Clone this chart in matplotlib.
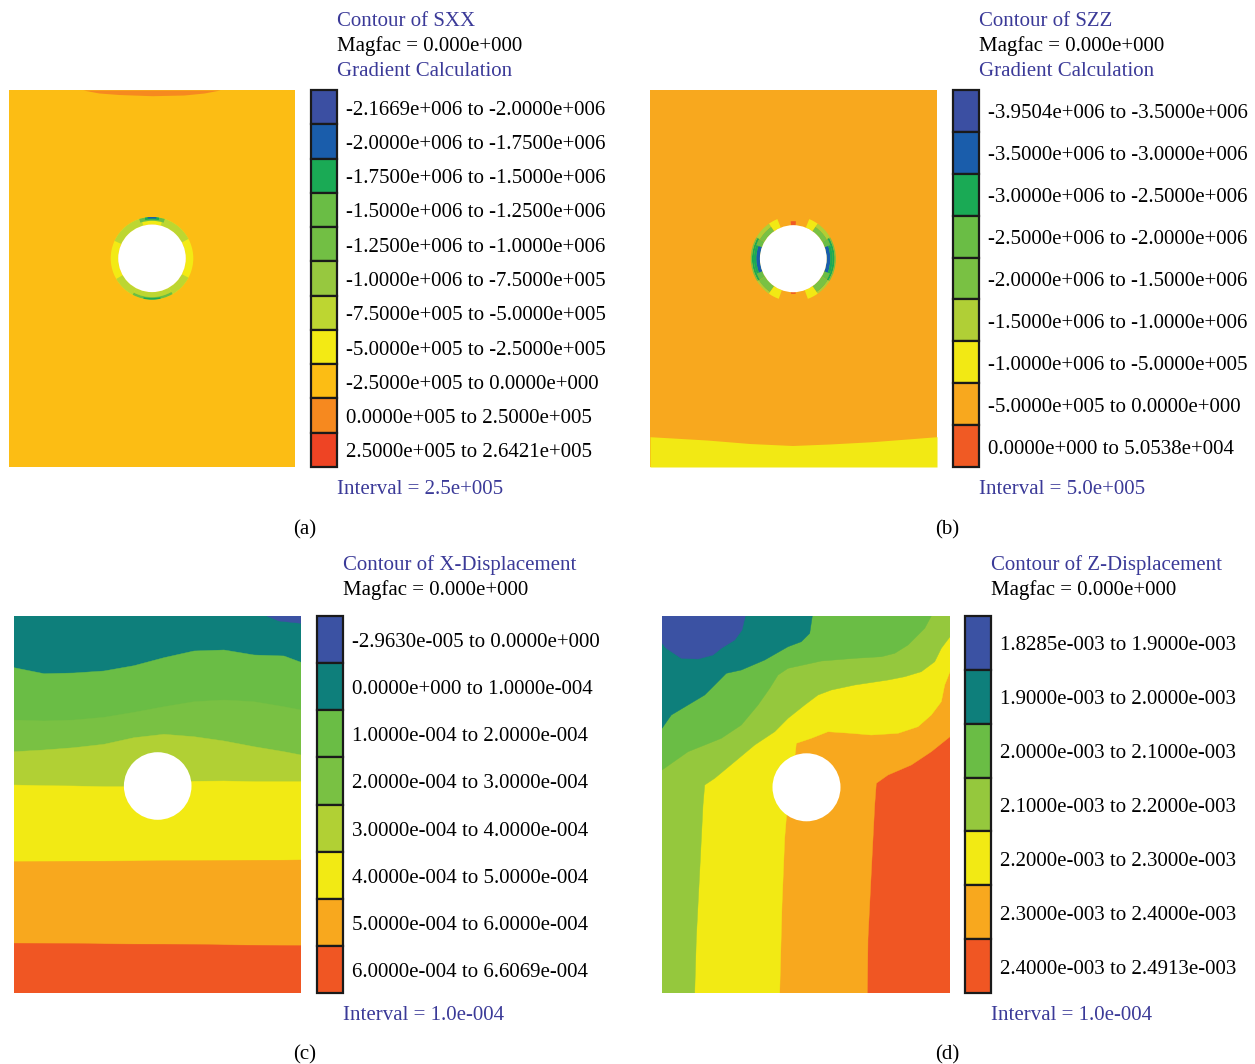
import numpy as np
import matplotlib
matplotlib.use('Agg')
import matplotlib.pyplot as plt
from matplotlib.patches import Rectangle, Circle, Wedge, Polygon

plt.rcParams['font.family'] = ['Liberation Serif', 'DejaVu Serif']

FIG_W, FIG_H = 1255, 1064
TXT_BLUE = '#3B3A98'
H = 37.7  # model height (depth units)

# ---------------- (a) SXX ----------------
sxx_colors = ['#3B4FA2', '#1A5DAB', '#1AAA55', '#6ABD45', '#72BF44', '#97C83F',
              '#BDD631', '#F3EA14', '#FCBD14', '#F6891F', '#EE4424']
sxx_labels = ['-2.1669e+006 to -2.0000e+006', '-2.0000e+006 to -1.7500e+006',
              '-1.7500e+006 to -1.5000e+006', '-1.5000e+006 to -1.2500e+006',
              '-1.2500e+006 to -1.0000e+006', '-1.0000e+006 to -7.5000e+005',
              '-7.5000e+005 to -5.0000e+005', '-5.0000e+005 to -2.5000e+005',
              '-2.5000e+005 to 0.0000e+000', '0.0000e+005 to 2.5000e+005',
              '2.5000e+005 to 2.6421e+005']
sxx_field_level = 8
sxx_lens_x = [7.4, 9.0, 11.0, 14.3, 17.5, 19.5, 21.1]
sxx_lens_d = [0.0, 0.3, 0.45, 0.57, 0.5, 0.3, 0.0]
sxx_lens_level = 9
sxx_hole = (14.3, 16.83, 3.38)
sxx_ring_a1 = [0, 295, 15, 118, 208, 150, 150, 168, -18, -10, -6]
sxx_ring_a2 = [360, 345, 62, 150, 240, 208, 208, 192, 18, 10, 6]
sxx_ring_rin = [3.38, 3.38, 3.38, 3.38, 3.38, 3.38, 3.88, 3.98, 3.75, 3.88, 3.98]
sxx_ring_rout = [4.13, 4.13, 4.13, 4.13, 4.13, 3.88, 4.13, 4.13, 4.13, 4.13, 4.13]
sxx_ring_level = [7, 6, 6, 6, 6, 6, 3, 2, 3, 2, 1]

# ---------------- (b) SZZ ----------------
szz_colors = ['#3B4FA2', '#1A5DAB', '#1AAA55', '#6ABD45', '#79C143', '#B0CF36',
              '#F2E914', '#F8A81E', '#F05A24']
szz_labels = ['-3.9504e+006 to -3.5000e+006', '-3.5000e+006 to -3.0000e+006',
              '-3.0000e+006 to -2.5000e+006', '-2.5000e+006 to -2.0000e+006',
              '-2.0000e+006 to -1.5000e+006', '-1.5000e+006 to -1.0000e+006',
              '-1.0000e+006 to -5.0000e+005', '-5.0000e+005 to 0.0000e+000',
              '0.0000e+000 to 5.0538e+004']
szz_field_level = 7
szz_band_x = [0.0, 5.7, 10.0, 14.3, 18.0, 22.3, 28.8]
szz_band_d = [34.67, 35.0, 35.35, 35.55, 35.4, 35.17, 34.67]
szz_band_level = 6
szz_hole = (14.38, 16.87, 3.35)
szz_ring_a1 = [22, 35, 35, 60, 60, 60, 70, 70, 122, 122, 145,
               325, 300, 300, 238, 238, 238, 248, 248, 215, 215, 200,
               -4, 176]
szz_ring_a2 = [35, 60, 60, 122, 122, 122, 112, 112, 145, 145, 160,
               338, 325, 325, 300, 300, 300, 290, 290, 238, 238, 215,
               4, 184]
szz_ring_rin = [3.35, 3.35, 3.9, 3.35, 3.95, 4.15, 3.35, 3.72, 3.35, 4.1, 3.35,
                3.35, 3.35, 3.9, 3.35, 3.95, 4.15, 3.35, 3.72, 3.35, 4.1, 3.35,
                3.35, 3.35]
szz_ring_rout = [4.27, 3.9, 4.27, 3.95, 4.15, 4.27, 3.72, 3.95, 4.1, 4.27, 4.27,
                 4.27, 3.9, 4.27, 3.95, 4.15, 4.27, 3.72, 3.95, 4.1, 4.27, 4.27,
                 3.75, 3.52]
szz_ring_level = [6, 4, 5, 3, 2, 4, 1, 2, 4, 5, 6,
                  6, 4, 5, 3, 2, 4, 1, 2, 4, 5, 6,
                  8, 8]

# ---------------- (c) X-Displacement ----------------
xd_colors = ['#3B52A3', '#0E7F7B', '#6ABD45', '#79C143', '#B1D034', '#F2EA14',
             '#F8A81E', '#F05623']
xd_labels = ['-2.9630e-005 to 0.0000e+000', '0.0000e+000 to 1.0000e-004',
             '1.0000e-004 to 2.0000e-004', '2.0000e-004 to 3.0000e-004',
             '3.0000e-004 to 4.0000e-004', '4.0000e-004 to 5.0000e-004',
             '5.0000e-004 to 6.0000e-004', '6.0000e-004 to 6.6069e-004']
xd_W = 28.7
xd_x = [0, 3, 6, 9, 12, 15, 18, 21, 24, 27, 28.7]
xd_b1 = [5.17, 5.77, 5.70, 5.50, 4.97, 4.17, 3.50, 3.40, 3.90, 4.00, 4.63]
xd_b2 = [10.4, 10.5, 10.4, 10.13, 9.63, 9.07, 8.57, 8.4, 8.57, 9.07, 9.4]
xd_b3 = [13.57, 13.4, 13.17, 12.83, 12.17, 11.83, 12.07, 12.5, 13.07, 13.57, 13.9]
xd_b4 = [16.9, 16.97, 17.0, 17.07, 17.07, 16.8, 16.53, 16.5, 16.57, 16.57, 16.57]
xd_b5 = [24.57, 24.55, 24.53, 24.52, 24.5, 24.48, 24.47, 24.45, 24.43, 24.42, 24.4]
xd_b6 = [32.73, 32.75, 32.77, 32.8, 32.82, 32.83, 32.86, 32.9, 32.93, 32.96, 32.97]
xd_blue_x = [28.7, 26.5, 25.3]
xd_blue_d = [0.73, 0.5, 0.0]
xd_hole = (14.37, 17.0, 3.38)

# ---------------- (d) Z-Displacement ----------------
zd_colors = ['#3B52A3', '#0E7F7B', '#6ABD45', '#95C83D', '#F2EA14', '#F8A81E', '#F05623']
zd_labels = ['1.8285e-003 to 1.9000e-003', '1.9000e-003 to 2.0000e-003',
             '2.0000e-003 to 2.1000e-003', '2.1000e-003 to 2.2000e-003',
             '2.2000e-003 to 2.3000e-003', '2.3000e-003 to 2.4000e-003',
             '2.4000e-003 to 2.4913e-003']
zd_W = 28.8
zd_or_x = [28.8, 26.93, 24.93, 22.6, 21.43, 21.27, 20.93, 20.6, 20.53]
zd_or_d = [12.07, 13.57, 14.9, 15.9, 16.73, 18.9, 25.57, 32.23, 37.7]
zd_yo_x = [28.8, 28.27, 27.93, 26.93, 25.6, 23.6, 20.93, 18.93, 16.6, 14.93, 13.43,
           13.33, 12.43, 12.27, 12.0, 11.77]
zd_yo_d = [5.57, 6.9, 8.57, 9.9, 11.07, 11.73, 11.9, 11.73, 11.57, 12.23, 12.73,
           13.73, 20.23, 22.23, 28.9, 37.7]
zd_gy_x = [28.8, 27.93, 27.27, 25.93, 24.27, 22.6, 19.27, 16.93, 15.6, 14.27, 12.6,
           11.27, 9.27, 7.27, 5.27, 4.27, 4.1, 3.77, 3.43, 3.27]
zd_gy_d = [2.07, 3.23, 4.57, 5.57, 6.07, 6.4, 6.9, 7.4, 7.9, 8.9, 10.23,
           11.57, 12.9, 14.57, 16.23, 16.9, 18.9, 25.57, 32.23, 37.7]
zd_gg_x = [26.93, 26.27, 24.6, 23.27, 21.93, 19.27, 15.93, 12.6, 11.6, 10.77, 9.6,
           7.93, 5.93, 4.27, 2.6, 0.0]
zd_gg_d = [0.0, 1.23, 2.9, 3.73, 4.07, 4.23, 4.5, 5.23, 5.9, 7.23, 8.9,
           10.9, 12.23, 12.9, 13.57, 15.4]
zd_tg_x = [15.03, 14.77, 13.93, 12.6, 10.27, 7.93, 6.43, 5.27, 4.27, 2.6, 0.93, 0.0]
zd_tg_d = [0.0, 1.73, 2.57, 3.07, 4.4, 5.4, 5.73, 6.9, 7.9, 8.9, 9.9, 11.23]
zd_bl_x = [8.33, 8.0, 7.27, 5.93, 5.1, 3.6, 1.93, 0.43, 0.0]
zd_bl_d = [0.0, 1.4, 2.4, 3.23, 3.9, 4.3, 4.23, 3.23, 2.73]
zd_hole = (14.45, 17.13, 3.4)

TEXT_DY = 3  # baseline correction in pixels


# ---------------- helpers ----------------
def px_axes(fig, left, top, width, height):
    return fig.add_axes([left / FIG_W, 1 - (top + height) / FIG_H,
                         width / FIG_W, height / FIG_H])


def ftext(fig, x, y, s, color='black', ha='left', size=15):
    fig.text(x / FIG_W, 1 - (y + TEXT_DY) / FIG_H, s, color=color, ha=ha,
             va='center', fontsize=size)


def perim_s(x, y, W, Hh):
    dists = [abs(y), abs(x - W), abs(y - Hh), abs(x)]
    k = int(np.argmin(dists))
    if k == 0:
        return x
    if k == 1:
        return W + y
    if k == 2:
        return W + Hh + (W - x)
    return 2 * W + Hh + (Hh - y)


def side_polygon(xs, ds, W, Hh):
    pts = list(zip(xs, ds))
    P = 2 * (W + Hh)
    s_start = perim_s(xs[0], ds[0], W, Hh)
    s_end = perim_s(xs[-1], ds[-1], W, Hh)
    span = (s_start - s_end) % P
    corners = [(0, (0, 0)), (W, (W, 0)), (W + Hh, (W, Hh)), (2 * W + Hh, (0, Hh))]
    extra = []
    for sc, c in corners:
        dd = (sc - s_end) % P
        if 0 < dd < span:
            extra.append((dd, c))
    extra.sort()
    return pts + [c for _, c in extra]


def field_axes(fig, rect, W):
    ax = px_axes(fig, *rect)
    ax.set_xlim(0, W)
    ax.set_ylim(H, 0)
    ax.axis('off')
    return ax


def fill_region(ax, xs, ds, W, color):
    ax.add_patch(Polygon(side_polygon(xs, ds, W, H), closed=True,
                         facecolor=color, edgecolor=color, linewidth=0.3))


def draw_ring(ax, center, a1, a2, rin, rout, levels, colors):
    for t1, t2, ri, ro, lv in zip(a1, a2, rin, rout, levels):
        ax.add_patch(Wedge(center, ro, t1 - 90, t2 - 90, width=ro - ri,
                           facecolor=colors[lv], edgecolor='none'))


def draw_hole(ax, hole):
    cx, cy, r = hole
    ax.add_patch(Circle((cx, cy), r, facecolor='white', edgecolor='none', zorder=5))


def draw_legend(fig, box_left, top, height, colors, labels):
    ax = px_axes(fig, box_left, top, 26, height)
    n = len(colors)
    ax.set_xlim(0, 1)
    ax.set_ylim(n, 0)
    ax.axis('off')
    step = height / n
    for i, c in enumerate(colors):
        ax.add_patch(Rectangle((0, i), 1, 1, facecolor=c, edgecolor='#1a1a1a',
                               linewidth=1.6, clip_on=False))
        ftext(fig, box_left + 35, top + (i + 0.5) * step, labels[i])


def headers(fig, x, lines, y0):
    for i, (s, c) in enumerate(lines):
        ftext(fig, x, y0 + 25.5 * i, s, color=c)


fig = plt.figure(figsize=(FIG_W / 100, FIG_H / 100), dpi=100)
fig.patch.set_facecolor('white')

# ---- (a) ----
ax = field_axes(fig, (9, 90, 286, 377), 28.6)
ax.add_patch(Rectangle((0, 0), 28.6, H, facecolor=sxx_colors[sxx_field_level],
                       edgecolor='none'))
ax.fill_between(sxx_lens_x, 0, sxx_lens_d, color=sxx_colors[sxx_lens_level], lw=0)
draw_ring(ax, sxx_hole[:2], sxx_ring_a1, sxx_ring_a2, sxx_ring_rin, sxx_ring_rout,
          sxx_ring_level, sxx_colors)
draw_hole(ax, sxx_hole)
draw_legend(fig, 311, 90, 377, sxx_colors, sxx_labels)
headers(fig, 337, [('Contour of SXX', TXT_BLUE), ('Magfac = 0.000e+000', 'black'),
                   ('Gradient Calculation', TXT_BLUE)], 18)
ftext(fig, 337, 487, 'Interval = 2.5e+005', color=TXT_BLUE)
ftext(fig, 305, 527, '(a)', ha='center')

# ---- (b) ----
ax = field_axes(fig, (650, 90, 287, 377), 28.8)
ax.add_patch(Rectangle((0, 0), 28.8, H, facecolor=szz_colors[szz_field_level],
                       edgecolor='none'))
ax.fill_between(szz_band_x, szz_band_d, H, color=szz_colors[szz_band_level], lw=0)
draw_ring(ax, szz_hole[:2], szz_ring_a1, szz_ring_a2, szz_ring_rin, szz_ring_rout,
          szz_ring_level, szz_colors)
draw_hole(ax, szz_hole)
draw_legend(fig, 953, 90, 377, szz_colors, szz_labels)
headers(fig, 979, [('Contour of SZZ', TXT_BLUE), ('Magfac = 0.000e+000', 'black'),
                   ('Gradient Calculation', TXT_BLUE)], 18)
ftext(fig, 979, 487, 'Interval = 5.0e+005', color=TXT_BLUE)
ftext(fig, 947, 527, '(b)', ha='center')

# ---- (c) ----
ax = field_axes(fig, (14, 616, 287, 377), xd_W)
ax.add_patch(Rectangle((0, 0), xd_W, H, facecolor=xd_colors[1], edgecolor='none'))
for b, lv in zip([xd_b1, xd_b2, xd_b3, xd_b4, xd_b5, xd_b6], [2, 3, 4, 5, 6, 7]):
    fill_region(ax, xd_x, b, xd_W, xd_colors[lv])
fill_region(ax, xd_blue_x, xd_blue_d, xd_W, xd_colors[0])
draw_hole(ax, xd_hole)
draw_legend(fig, 317, 616, 377, xd_colors, xd_labels)
headers(fig, 343, [('Contour of X-Displacement', TXT_BLUE),
                   ('Magfac = 0.000e+000', 'black')], 562)
ftext(fig, 343, 1013, 'Interval = 1.0e-004', color=TXT_BLUE)
ftext(fig, 305, 1052, '(c)', ha='center')

# ---- (d) ----
ax = field_axes(fig, (662, 616, 288, 377), zd_W)
ax.add_patch(Rectangle((0, 0), zd_W, H, facecolor=zd_colors[6], edgecolor='none'))
for bx, bd, lv in zip([zd_or_x, zd_yo_x, zd_gy_x, zd_gg_x, zd_tg_x, zd_bl_x],
                      [zd_or_d, zd_yo_d, zd_gy_d, zd_gg_d, zd_tg_d, zd_bl_d],
                      [5, 4, 3, 2, 1, 0]):
    fill_region(ax, bx, bd, zd_W, zd_colors[lv])
draw_hole(ax, zd_hole)
draw_legend(fig, 965, 616, 377, zd_colors, zd_labels)
headers(fig, 991, [('Contour of Z-Displacement', TXT_BLUE),
                   ('Magfac = 0.000e+000', 'black')], 562)
ftext(fig, 991, 1013, 'Interval = 1.0e-004', color=TXT_BLUE)
ftext(fig, 947, 1052, '(d)', ha='center')

fig.savefig('out.png', dpi=100, facecolor='white')
